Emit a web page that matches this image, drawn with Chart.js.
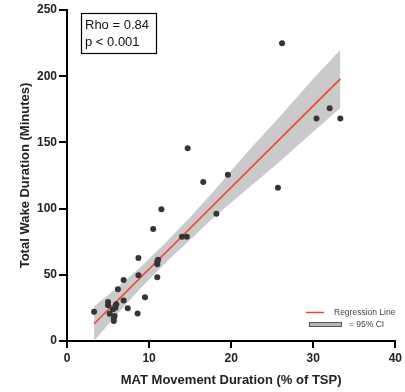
<!DOCTYPE html>
<html lang="en">
<head>
    <meta charset="UTF-8">
    <title>Wake vs MAT Movement</title>
    <script src="https://cdn.jsdelivr.net/npm/chart.js"></script>
    <style>
        html, body { margin: 0; padding: 0; background: #fff; }
        #wrap { width: 405px; height: 392px; position: relative; }
    </style>
</head>
<body>
<div id="wrap"><canvas id="wakeChart"></canvas></div>
<script>
    // scatter points
    const movePct = [3.3, 5.0, 5.0, 5.2, 5.6, 5.7, 5.7, 5.8, 5.9, 6.0, 6.2, 6.9, 6.9, 7.4, 8.6, 8.7, 8.7, 9.5,
        10.5, 11.0, 11.0, 11.0, 11.1, 11.5, 14.0, 14.6, 14.7, 16.6, 18.2, 19.6, 25.7, 26.2, 30.4, 32.0, 33.3];
    const wakeMin = [22, 29.5, 27, 20.5, 24, 16.9, 15.2, 18.9, 25.2, 27.8, 39, 46, 30.5, 24.7, 20.7, 49.7, 62.6, 33,
        84.6, 48.2, 58, 60, 61.4, 99.5, 78.8, 78.8, 145.5, 120, 96.2, 125.5, 115.7, 224.8, 168, 175.8, 168];

    // regression line end points
    const fitX = [3.3, 33.3];
    const fitY = [13, 198];

    // 95% CI band, read at a few x positions
    const bandX = [3.3, 6, 9, 12, 15, 18, 22, 26, 30, 33.3];
    const bandUpper = [26, 39.7, 56, 74.3, 93.5, 114, 143, 170, 198, 220];
    const bandLower = [0, 19.7, 40, 59.1, 76.5, 94, 115, 136, 158, 176];

    const xTicks = [0, 10, 20, 30, 40];
    const yTicks = [0, 50, 100, 150, 200, 250];

    const zip = (xs, ys) => xs.map((x, i) => ({ x: x, y: ys[i] }));
    const FONT = '"Liberation Sans", Arial, sans-serif';

    const overlay = {
        id: 'overlay',
        afterDraw(chart) {
            const ctx = chart.ctx;
            ctx.save();
            // stats box
            ctx.strokeStyle = '#000';
            ctx.lineWidth = 1.2;
            ctx.strokeRect(81.5, 13.5, 75, 40);
            ctx.fillStyle = '#111';
            ctx.font = '13px ' + FONT;
            ctx.textBaseline = 'middle';
            ctx.textAlign = 'left';
            ctx.fillText('Rho = 0.84', 85, 25);
            ctx.fillText('p < 0.001', 85, 42);
            // legend
            ctx.strokeStyle = '#f0452a';
            ctx.lineWidth = 1.5;
            ctx.beginPath();
            ctx.moveTo(306, 312.5);
            ctx.lineTo(324, 312.5);
            ctx.stroke();
            ctx.fillStyle = '#b8b8b8';
            ctx.fillRect(309, 322, 33, 5);
            ctx.strokeStyle = '#555';
            ctx.lineWidth = 1;
            ctx.strokeRect(309.5, 322.5, 32, 4);
            ctx.fillStyle = '#444';
            ctx.font = '8.5px ' + FONT;
            ctx.fillText('Regression Line', 334, 312.5);
            ctx.fillText('= 95% CI', 349, 325);
            ctx.restore();
        }
    };

    new Chart(document.getElementById('wakeChart').getContext('2d'), {
        type: 'scatter',
        data: {
            datasets: [
                {
                    label: 'lower',
                    data: zip(bandX, bandLower),
                    showLine: true,
                    borderWidth: 0,
                    pointRadius: 0,
                    fill: false,
                    order: 4
                },
                {
                    label: '95% CI',
                    data: zip(bandX, bandUpper),
                    showLine: true,
                    borderWidth: 0,
                    pointRadius: 0,
                    backgroundColor: 'rgba(196, 196, 196, 0.9)',
                    fill: '-1',
                    order: 3
                },
                {
                    label: 'Regression Line',
                    data: zip(fitX, fitY),
                    showLine: true,
                    borderColor: '#f0452a',
                    borderWidth: 1.6,
                    pointRadius: 0,
                    order: 2
                },
                {
                    label: 'Subjects',
                    data: zip(movePct, wakeMin),
                    pointRadius: 3,
                    pointBackgroundColor: '#353535',
                    pointBorderWidth: 0,
                    order: 1
                }
            ]
        },
        options: {
            responsive: true,
            maintainAspectRatio: false,
            animation: false,
            layout: { padding: { top: 10, right: 7, left: 14, bottom: 0 } },
            plugins: { legend: { display: false }, tooltip: { enabled: false } },
            scales: {
                x: {
                    type: 'linear',
                    min: 0,
                    max: 40,
                    afterBuildTicks: s => { s.ticks = xTicks.map(v => ({ value: v })); },
                    afterFit: s => { s.height = 51; },
                    border: { color: '#000', width: 2 },
                    grid: { drawOnChartArea: false, drawTicks: true, tickLength: 7, color: '#000', lineWidth: 2 },
                    ticks: { color: '#222', font: { family: FONT, size: 12, weight: 'bold' }, padding: 3, maxRotation: 0 },
                    title: { display: true, text: 'MAT Movement Duration (% of TSP)', color: '#222',
                        font: { family: FONT, size: 13, weight: 'bold' }, padding: { top: 2 } }
                },
                y: {
                    type: 'linear',
                    min: 0,
                    max: 250,
                    afterBuildTicks: s => { s.ticks = yTicks.map(v => ({ value: v })); },
                    afterFit: s => { s.width = 53; },
                    border: { color: '#000', width: 2 },
                    grid: { drawOnChartArea: false, drawTicks: true, tickLength: 8, color: '#000', lineWidth: 2 },
                    ticks: { color: '#222', font: { family: FONT, size: 12, weight: 'bold' }, padding: 2 },
                    title: { display: true, text: 'Total Wake Duration (Minutes)', color: '#222',
                        font: { family: FONT, size: 13, weight: 'bold' }, padding: { bottom: 6 } }
                }
            }
        },
        plugins: [overlay]
    });
</script>
</body>
</html>
